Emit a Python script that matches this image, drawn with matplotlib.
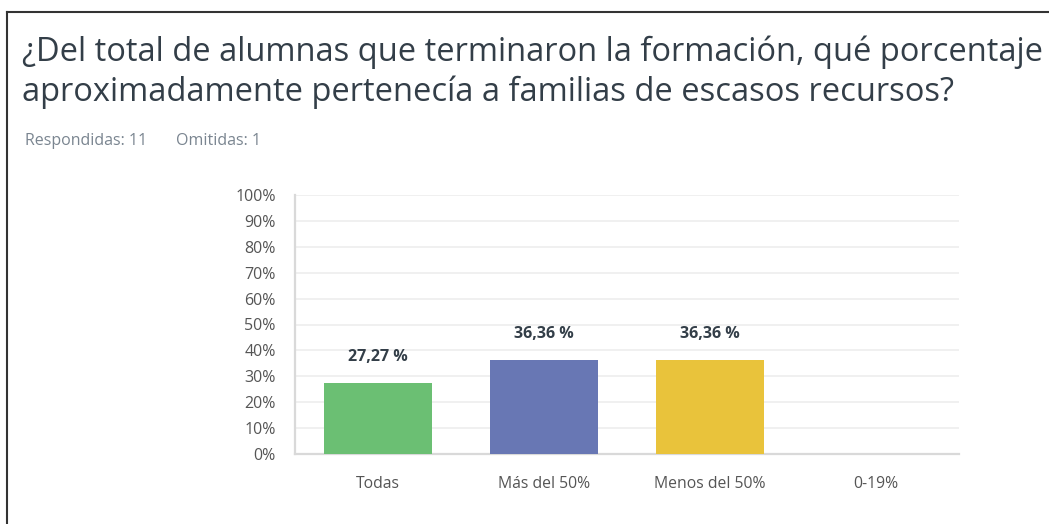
import matplotlib
matplotlib.use("Agg")
import matplotlib.pyplot as plt
from matplotlib.lines import Line2D

categories = ["Todas", "Más del 50%", "Menos del 50%", "0-19%"]
values = [27.27, 36.36, 36.36, 0.0]
colors = ["#6bbf73", "#6877b4", "#e9c33b", "#999999"]
value_labels = ["27,27 %", "36,36 %", "36,36 %", ""]
yticks = list(range(0, 101, 10))
ytick_labels = [f"{v}%" for v in yticks]

title_lines = ["¿Del total de alumnas que terminaron la formación, qué porcentaje",
               "aproximadamente pertenecía a familias de escasos recursos?"]
subtitle_a = "Respondidas: 11"
subtitle_b = "Omitidas: 1"

W, H = 1049, 524
fig = plt.figure(figsize=(W / 100, H / 100), dpi=100)
fig.patch.set_facecolor("white")

font = "Open Sans"

# frame border (top and left)
fig.add_artist(Line2D([7 / W, 1.0], [1 - 12 / H, 1 - 12 / H], color="#333333", lw=1.5))
fig.add_artist(Line2D([7 / W, 7 / W], [1 - 12 / H, 0.0], color="#333333", lw=1.5))

for i, line in enumerate(title_lines):
    fig.text(22 / W, 1 - (61 + 40 * i) / H, line, fontsize=23.5, color="#333e48",
             family=font, va="baseline")
fig.text(25 / W, 1 - 145 / H, subtitle_a, fontsize=11.5, color="#7a8590", family=font, va="baseline")
fig.text(176 / W, 1 - 145 / H, subtitle_b, fontsize=11.5, color="#7a8590", family=font, va="baseline")

ax = fig.add_axes([295 / W, 1 - 454 / H, (959 - 295) / W, (454 - 195) / H])
x = list(range(len(categories)))
ax.bar(x, values, width=0.65, color=colors, zorder=3)
for xi, v, lab in zip(x, values, value_labels):
    if lab:
        ax.text(xi, v + 7, lab, ha="center", va="bottom", fontsize=11.5, fontweight="bold",
                color="#333e48", family=font)

ax.set_xlim(-0.5, 3.5)
ax.set_ylim(0, 100)
ax.set_yticks(yticks)
ax.set_yticklabels(ytick_labels, family=font, fontsize=11.5, color="#555555")
ax.set_xticks(x)
ax.set_xticklabels(categories, family=font, fontsize=11.3, color="#555555")
ax.tick_params(axis="both", length=0)
ax.tick_params(axis="y", pad=14)
ax.tick_params(axis="x", pad=15.5)
ax.grid(axis="y", color="#eeeeee", lw=1.2, zorder=0)
for s in ["top", "right"]:
    ax.spines[s].set_visible(False)
for s in ["left", "bottom"]:
    ax.spines[s].set_color("#d9d9d9")
    ax.spines[s].set_linewidth(1.6)

fig.savefig("out.png", dpi=100, facecolor="white")
